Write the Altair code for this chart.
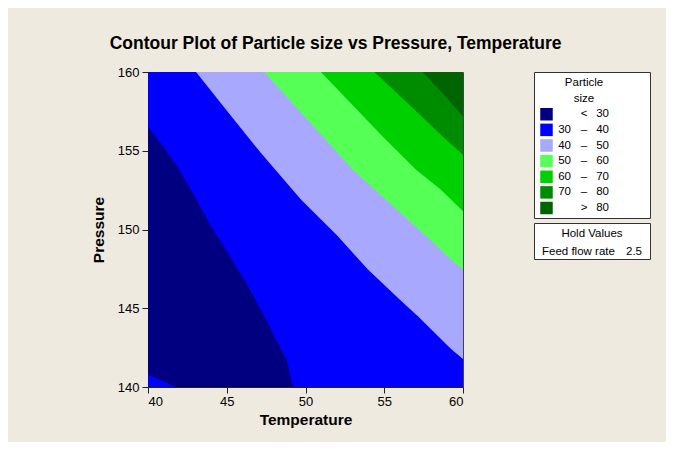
import altair as alt
import pandas as pd

# ---------------- data ----------------
TEMP_DOMAIN = [40, 60]
PRES_DOMAIN = [140, 160]
TEMP_TICKS = [40, 45, 50, 55, 60]
PRES_TICKS = [140, 145, 150, 155, 160]

# region "< 30" (navy): lower and upper contour of level 30
NAVY_T = [40.0, 41.0, 41.57, 41.8, 42.84, 44.0, 44.95, 46.22, 47.38, 48.44, 48.8, 49.2]
NAVY_LOW = [140.76, 140.35, 140.1, 140.0, 140.0, 140.0, 140.0, 140.0, 140.0, 140.0, 140.0, 140.0]
NAVY_HIGH = [156.54, 155.2, 154.43, 154.1, 152.32, 150.21, 148.73, 146.63, 144.51, 142.41, 141.77, 140.0]

# contour lines (everything above/right of each line exceeds the level)
C40_T = [43.05, 45.11, 47.17, 49.71, 52.04, 53.95, 55.96, 57.12, 59.24, 60.0]
C40_P = [160.0, 157.42, 154.85, 151.9, 149.58, 147.47, 145.57, 144.51, 142.41, 141.77]
C50_T = [47.38, 50.14, 53.0, 55.32, 56.49, 57.65, 59.45, 60.0]
C50_P = [160.0, 156.96, 153.8, 151.69, 150.63, 149.58, 147.89, 147.47]
C60_T = [50.98, 54.9, 57.02, 58.6, 60.0]
C60_P = [160.0, 155.9, 153.8, 152.53, 151.16]
C70_T = [54.37, 56.49, 58.71, 60.0]
C70_P = [160.0, 158.02, 155.9, 154.75]
C80_T = [57.44, 58.71, 60.0]
C80_P = [160.0, 158.65, 157.17]

BAND_COLORS = ["#000080", "#0000FF", "#A8A8FF", "#55FF55", "#00D000", "#008C00", "#006400"]
LEGEND_TITLE = ["Particle", "size"]
LEG_LO = ["", "30", "40", "50", "60", "70", ""]
LEG_SIGN = ["<", "\u2013", "\u2013", "\u2013", "\u2013", "\u2013", ">"]
LEG_HI = ["30", "40", "50", "60", "70", "80", "80"]
HOLD_TITLE = ["Hold Values"]
HOLD_NAMES = ["Feed flow rate"]
HOLD_VALUES = ["2.5"]

BG = "#EEEAE0"
FONT = "Liberation Sans"

# ---------------- contour plot ----------------
xs = alt.Scale(domain=TEMP_DOMAIN, nice=False, zero=False)
ys = alt.Scale(domain=PRES_DOMAIN, nice=False, zero=False)
x_enc = alt.X("T:Q", scale=xs, title="Temperature",
              axis=alt.Axis(values=TEMP_TICKS, labelPadding=2, titlePadding=4))
y_enc = alt.Y("P:Q", scale=ys, title="Pressure",
              axis=alt.Axis(values=PRES_TICKS, labelPadding=3, titlePadding=11))


def above(ts, ps, color):
    df = pd.DataFrame({"T": ts, "P": ps, "top": [PRES_DOMAIN[1]] * len(ts)})
    return alt.Chart(df).mark_area(color=color, clip=True, interpolate="linear").encode(
        x=x_enc, y=y_enc, y2="top:Q")


base = above(TEMP_DOMAIN, [PRES_DOMAIN[0]] * 2, BAND_COLORS[1])
navy_df = pd.DataFrame({"T": NAVY_T, "P": NAVY_LOW, "P2": NAVY_HIGH})
navy = alt.Chart(navy_df).mark_area(color=BAND_COLORS[0], clip=True).encode(
    x=x_enc, y=y_enc, y2="P2:Q")

plot = alt.layer(
    base,
    navy,
    above(C40_T, C40_P, BAND_COLORS[2]),
    above(C50_T, C50_P, BAND_COLORS[3]),
    above(C60_T, C60_P, BAND_COLORS[4]),
    above(C70_T, C70_P, BAND_COLORS[5]),
    above(C80_T, C80_P, BAND_COLORS[6]),
).properties(width=315, height=315,
             view=alt.ViewBackground(stroke="#444444", strokeWidth=1, fill=BG))

# ---------------- legend box ----------------
ly = alt.Y("line:Q", scale=alt.Scale(domain=[0, 8], range=[11, 136]), axis=None)
title_df = pd.DataFrame({"line": [0, 1], "txt": LEGEND_TITLE})
rows_df = pd.DataFrame({
    "line": list(range(2, 9)),
    "color": BAND_COLORS,
    "lo": LEG_LO,
    "sign": LEG_SIGN,
    "hi": LEG_HI,
})
txt_kw = dict(font=FONT, fontSize=11.5, color="black", baseline="middle")
leg_title = alt.Chart(title_df).mark_text(align="center", **txt_kw).encode(
    x=alt.value(50), y=ly, text="txt:N")
swatch = alt.Chart(rows_df).mark_square(size=156, opacity=1, strokeWidth=0).encode(
    x=alt.value(12.5), y=ly, color=alt.Color("color:N", scale=None))
lo_txt = alt.Chart(rows_df).mark_text(align="right", **txt_kw).encode(
    x=alt.value(37), y=ly, text="lo:N")
sign_txt = alt.Chart(rows_df).mark_text(align="center", **txt_kw).encode(
    x=alt.value(50), y=ly, text="sign:N")
hi_txt = alt.Chart(rows_df).mark_text(align="right", **txt_kw).encode(
    x=alt.value(75), y=ly, text="hi:N")
legend = alt.layer(swatch, leg_title, lo_txt, sign_txt, hi_txt).properties(
    width=116, height=146,
    view=alt.ViewBackground(fill="white", stroke="#333333", strokeWidth=1))

# ---------------- hold values box ----------------
hy = alt.Y("line:Q", scale=alt.Scale(domain=[0, 1], range=[10.5, 28.5]), axis=None)
hold_t_df = pd.DataFrame({"line": [0], "txt": HOLD_TITLE})
hold_df = pd.DataFrame({"line": [1] * len(HOLD_NAMES), "name": HOLD_NAMES, "val": HOLD_VALUES})
hold = alt.layer(
    alt.Chart(hold_t_df).mark_text(align="center", **txt_kw).encode(
        x=alt.value(58), y=hy, text="txt:N"),
    alt.Chart(hold_df).mark_text(align="left", **txt_kw).encode(
        x=alt.value(8), y=hy, text="name:N"),
    alt.Chart(hold_df).mark_text(align="right", **txt_kw).encode(
        x=alt.value(108), y=hy, text="val:N"),
).properties(width=116, height=36,
             view=alt.ViewBackground(fill="white", stroke="#333333", strokeWidth=1))

side = alt.vconcat(legend, hold, spacing=5, bounds="flush")

chart = alt.hconcat(plot, side, spacing=71, bounds="flush").properties(
    title=alt.TitleParams(
        "Contour Plot of Particle size vs Pressure, Temperature",
        font=FONT, fontSize=17.5, fontWeight="bold", color="black",
        anchor="middle", offset=13, dx=-35),
    padding={"left": 82, "top": 27, "right": 15, "bottom": 14},
    background=BG,
).configure_axis(
    grid=False,
    domainColor="#222222",
    tickColor="#222222",
    tickSize=6,
    labelFont=FONT,
    labelFontSize=13,
    labelColor="black",
    titleFont=FONT,
    titleFontSize=15.5,
    titleFontWeight="bold",
    titleColor="black",
).configure_view(stroke="#333333")

chart.save("out.html", embed_options={"renderer": "svg", "actions": False})
